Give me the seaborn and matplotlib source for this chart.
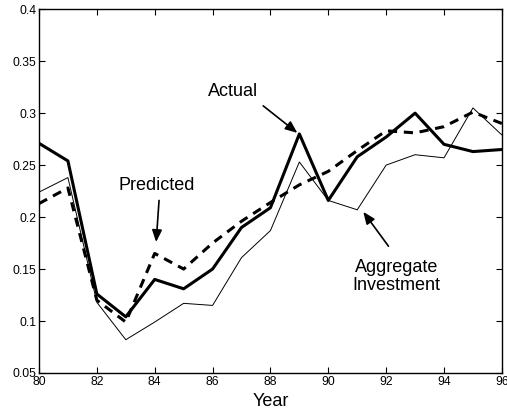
import matplotlib
matplotlib.use("Agg")
import matplotlib.pyplot as plt
import seaborn as sns
import pandas as pd

years = list(range(80, 97))
actual = [0.271, 0.254, 0.126, 0.104, 0.140, 0.131, 0.150, 0.190, 0.209, 0.280,
          0.216, 0.258, 0.277, 0.300, 0.270, 0.263, 0.265]
predicted = [0.213, 0.228, 0.120, 0.099, 0.165, 0.150, 0.175, 0.196, 0.214, 0.231,
             0.244, 0.264, 0.283, 0.281, 0.287, 0.301, 0.290]
aggregate = [0.224, 0.238, 0.118, 0.082, 0.099, 0.117, 0.115, 0.161, 0.187, 0.253,
             0.216, 0.207, 0.250, 0.260, 0.257, 0.305, 0.279]
xticks = [80, 82, 84, 86, 88, 90, 92, 94, 96]
yticks = [0.05, 0.1, 0.15, 0.2, 0.25, 0.3, 0.35, 0.4]
yticklabels = ["0.05", "0.1", "0.15", "0.2", "0.25", "0.3", "0.35", "0.4"]

sns.set_theme(style="ticks")
plt.rcParams["font.family"] = ["Liberation Sans", "DejaVu Sans"]
plt.rcParams["text.color"] = "black"
plt.rcParams["axes.labelcolor"] = "black"

fig = plt.figure(figsize=(5.07, 4.12), dpi=100)
ax = fig.add_axes([0.0769, 0.0947, 0.913, 0.883])

df = pd.DataFrame({"year": years, "actual": actual, "predicted": predicted, "aggregate": aggregate})
sns.lineplot(data=df, x="year", y="aggregate", ax=ax, color="black", linewidth=0.7)
sns.lineplot(data=df, x="year", y="predicted", ax=ax, color="black", linewidth=2.2,
             linestyle=(0, (3.0, 2.2)))
sns.lineplot(data=df, x="year", y="actual", ax=ax, color="black", linewidth=2.2)

ax.set_xlim(80, 96)
ax.set_ylim(0.05, 0.4)
ax.set_xticks(xticks)
ax.set_xticklabels([str(t) for t in xticks])
ax.set_yticks(yticks)
ax.set_yticklabels(yticklabels)
ax.tick_params(direction="in", top=True, right=True, length=4, width=0.8,
               labelsize=8.7, colors="black", pad=2)
for s in ax.spines.values():
    s.set_linewidth(1.0)
    s.set_color("black")
ax.set_xlabel("Year", fontsize=13, labelpad=3.5, color="black")
ax.set_ylabel("")

arrow = dict(arrowstyle="-|>,head_length=0.6,head_width=0.25", color="black", lw=1.2,
             shrinkA=0, shrinkB=0)
ax.annotate("", xy=(88.93, 0.281), xytext=(87.75, 0.307), arrowprops=arrow)
ax.annotate("", xy=(84.05, 0.176), xytext=(84.15, 0.216), arrowprops=arrow)
ax.annotate("", xy=(91.21, 0.205), xytext=(92.08, 0.172), arrowprops=arrow)
ax.text(86.71, 0.321, "Actual", ha="center", va="center", fontsize=13, color="black")
ax.text(84.08, 0.230, "Predicted", ha="center", va="center", fontsize=13, color="black")
ax.text(92.35, 0.143, "Aggregate\nInvestment", ha="center", va="center", fontsize=13,
        linespacing=1.05, color="black")

fig.savefig("out.png", dpi=100)
